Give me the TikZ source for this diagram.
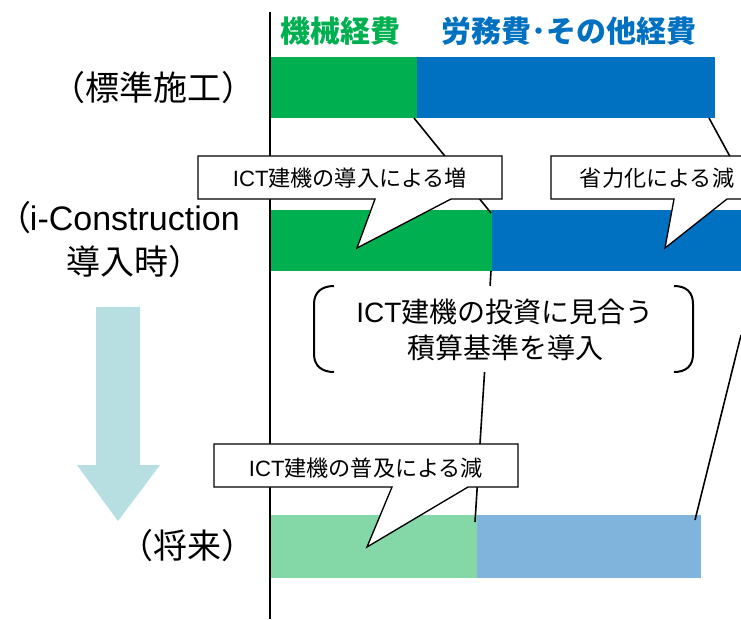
\documentclass[tikz,border=0pt]{standalone}
\usepackage{fontspec}
\setmainfont{Liberation Sans}
\newfontfamily\jp{Noto Sans CJK JP}
\newfontfamily\jpp[RawFeature=+palt]{Noto Sans CJK JP}
\newcommand{\J}[1]{{\jp #1}}
\definecolor{barg}{HTML}{00B050}
\definecolor{barb}{HTML}{0070C0}
\definecolor{barlg}{HTML}{84D8A8}
\definecolor{barlb}{HTML}{80B4DC}
\definecolor{arrowc}{HTML}{B7DEE1}
\tikzset{
  conn/.style={draw=black,line width=1.2pt},
  callout/.style={draw=black,fill=white,line width=1pt,line join=miter},
  rowlabel/.style={inner sep=0pt,font=\fontsize{25.5}{30}\selectfont,align=center},
  calltext/.style={inner sep=0pt,font=\fontsize{16.6}{20}\selectfont},
  bigtext/.style={inner sep=0pt,font=\fontsize{21}{27}\selectfont,align=center},
  headtext/.style={inner sep=0pt,font=\fontsize{22.5}{27}\selectfont\bfseries},
}
\begin{document}
\begin{tikzpicture}[x=0.75pt,y=-0.75pt]
\useasboundingbox (0,0) rectangle (741,619);
\clip (0,0) rectangle (741,619);
% axis
\coordinate (axt) at (270,12);
\coordinate (axb) at (270,619);
\draw[line width=1.5pt] (axt) -- (axb);
% connector end points
\coordinate (a1) at (414,118);
\coordinate (a2) at (491,213);
\coordinate (b1) at (709,118);
\coordinate (b2) at (752,197);
\coordinate (c1) at (491,271);
\coordinate (c2) at (475,522);
\coordinate (d1) at (741,335);
\coordinate (d2) at (695,520);
% bars
\fill[barg] (271,57) rectangle (417,118);
\fill[barb] (417,57) rectangle (715,118);
\fill[barg] (271,210) rectangle (492,271);
\fill[barb] (492,210) rectangle (741,271);
\fill[barlg] (271,515) rectangle (477,578);
\fill[barlb] (477,515) rectangle (701,578);
% connectors
\draw[conn] (a1) -- (a2);
\draw[conn] (b1) -- (b2);
\draw[conn] (c1) -- (c2);
\draw[conn] (d1) -- (d2);
% bracket label
\fill[white] (312,286) rectangle (696,372);
\draw[line width=1.5pt] (334,286) .. controls (322,286) and (314,292) .. (314,304) -- (314,354) .. controls (314,366) and (322,372) .. (334,372);
\draw[line width=1.5pt] (674,286) .. controls (686,286) and (693,292) .. (693,304) -- (693,354) .. controls (693,366) and (686,372) .. (674,372);
\node[bigtext] (mid) at (505,330) {ICT\J{建機の投資に見合う}\\\J{積算基準を導入}};
% callouts
\draw[callout] (198,156) -- (502,156) -- (502,199) -- (451,199) -- (357,248) -- (375,199) -- (198,199) -- cycle;
\node[calltext] (c1t) at (350,178) {ICT\J{建機の導入による増}};
\draw[callout] (551,156) -- (760,156) -- (760,199) -- (727,199) -- (665,248) -- (674,199) -- (551,199) -- cycle;
\node[calltext] (c2t) at (657,178) {\J{省力化による減}};
\draw[callout] (214,444) -- (518,444) -- (518,487) -- (468,487) -- (367,547) -- (392,487) -- (214,487) -- cycle;
\node[calltext] (c3t) at (366,468) {ICT\J{建機の普及による減}};
% down arrow
\fill[arrowc] (96,307) -- (140,307) -- (140,465) -- (160,465) -- (118,521) -- (77,465) -- (96,465) -- cycle;
% labels
\node[rowlabel] (l1) at (153,88) {\J{（標準施工）}};
\node[rowlabel,anchor=east] (l2) at (240,218) {{\jpp （}i-Construction};
\node[rowlabel,anchor=west] (l3) at (66,262) {\J{導入時）}};
\node[rowlabel,anchor=east] (l4) at (256,546) {\J{（将来）}};
\node[headtext,text=barg,anchor=west] (h1) at (280,31) {\J{機械経費}};
\node[headtext,text=barb,anchor=west] (h2) at (441,31) {\J{労務費･その他経費}};
\end{tikzpicture}
\end{document}
